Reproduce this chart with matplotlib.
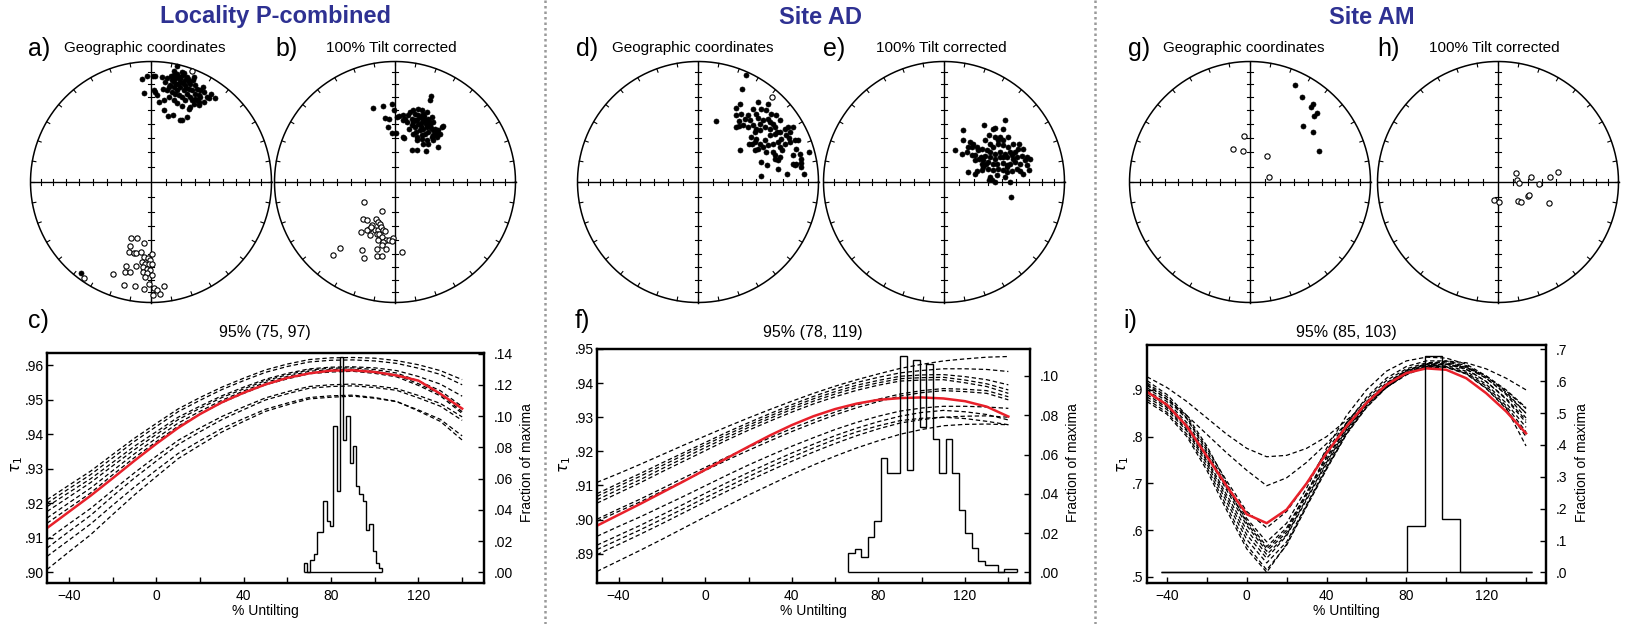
import numpy as np
import matplotlib
matplotlib.use('Agg')
import matplotlib.pyplot as plt
from matplotlib.lines import Line2D

plt.rcParams['font.family'] = ['Liberation Sans', 'DejaVu Sans']

W, H = 1642, 624

# ---------------- data ----------------
group_titles = ['Locality P-combined', 'Site AD', 'Site AM']
net_labels = ['a)', 'b)', 'd)', 'e)', 'g)', 'h)']
net_titles = ['Geographic coordinates', '100% Tilt corrected'] * 3
fold_labels = ['c)', 'f)', 'i)']
fold_titles = ['95% (75, 97)', '95% (78, 119)', '95% (85, 103)']

# stereonet points: (east, north) in % of the primitive radius
a_fill = [(-7.5, 85.1), (-5.5, 73.8), (-3.3, 87.6), (1.7, 87.6), (3.6, 87.6), (9.1, 87.0), (21.5, 95.9),
          (18.8, 92.5), (16.6, 87.6), (17.4, 84.3), (19.3, 82.9), (24.3, 85.6), (26.5, 88.4), (28.5, 84.3),
          (29.8, 87.0), (31.2, 82.9), (32.6, 81.5), (34.8, 84.3), (36.7, 80.9), (38.1, 77.3), (40.9, 76.0),
          (43.6, 74.6), (46.4, 70.4), (49.7, 73.2), (52.8, 69.6), (47.8, 69.9), (40.9, 70.4), (38.1, 67.7),
          (35.4, 64.9), (39.5, 63.5), (31.2, 60.8), (25.7, 62.7), (21.5, 65.5), (18.8, 67.7), (14.6, 70.4),
          (10.5, 67.7), (6.4, 66.3), (2.8, 76.0), (5.0, 71.8), (9.9, 77.3), (13.3, 76.0), (17.4, 74.6),
          (21.5, 76.5), (24.3, 78.7), (27.1, 76.0), (29.8, 73.2), (32.6, 70.4), (34.0, 67.7), (29.8, 53.9),
          (25.7, 51.1), (24.3, 51.7), (18.2, 55.2), (14.1, 54.4), (10.5, 59.9), (28.5, 67.7), (25.7, 70.4),
          (22.9, 71.8), (20.2, 73.2), (16.0, 80.1), (18.8, 78.7), (21.5, 81.5), (24.3, 82.9), (28.5, 80.1),
          (31.2, 77.3), (34.0, 76.0), (36.7, 73.2), (26.5, 82.0), (29.3, 78.2), (30.4, 85.4), (27.6, 90.3),
          (23.8, 87.0), (21.0, 86.5), (18.2, 85.4), (36.7, 69.1), (39.5, 66.3), (43.6, 66.3), (32.6, 62.2),
          (35.4, 87.0), (3.6, 74.6), (14.6, 78.7), (18.8, 88.4), (21.5, 89.8), (25.7, 91.2), (13.3, 86.5),
          (11.9, 82.9), (43.1, 78.7), (40.1, 71.8), (-58.0, -75.4)]
a_open = [(34.0, 92.0), (-16.6, -46.1), (-11.6, -46.1), (-5.5, -50.3), (-17.7, -53.3), (-18.5, -58.0),
          (-14.4, -58.8), (-12.2, -58.8), (-8.3, -58.0), (0.8, -59.4), (-6.1, -62.2), (-2.8, -62.7),
          (-0.6, -64.4), (-7.5, -66.3), (-4.7, -67.7), (-1.9, -68.2), (0.8, -67.7), (-20.4, -69.9),
          (-12.7, -69.6), (-6.6, -70.4), (-3.3, -71.8), (-0.6, -72.7), (-21.3, -74.6), (-17.1, -74.6),
          (-6.6, -74.6), (-3.3, -75.4), (-31.5, -76.0), (-4.7, -78.7), (0.8, -77.3), (-22.7, -85.1),
          (-13.0, -86.2), (-6.1, -89.0), (-1.9, -84.3), (2.2, -87.6), (5.0, -89.8), (11.0, -86.5),
          (1.7, -93.9), (7.7, -93.1), (-55.8, -79.3)]
b_fill = [(-18.5, 61.6), (-9.7, 62.7), (-2.8, 64.9), (-0.8, 59.4), (-8.3, 53.3), (-4.7, 52.5), (-5.5, 45.6),
          (-2.8, 40.6), (0.6, 40.6), (1.4, 53.9), (3.6, 54.4), (6.4, 55.2), (8.3, 52.5), (11.0, 55.2),
          (12.4, 58.0), (15.2, 59.4), (16.6, 56.6), (19.3, 60.8), (22.1, 59.4), (23.5, 56.6), (26.2, 58.0),
          (29.0, 67.7), (29.6, 71.0), (20.7, 53.9), (18.0, 51.1), (15.2, 49.7), (13.8, 47.0), (16.6, 45.6),
          (19.3, 47.8), (22.1, 49.7), (24.9, 51.1), (27.6, 52.5), (30.4, 53.9), (31.8, 49.7), (29.0, 47.0),
          (26.2, 45.6), (23.5, 44.2), (20.7, 42.8), (17.4, 41.4), (15.2, 40.1), (18.0, 37.3), (22.1, 38.7),
          (24.9, 40.1), (27.6, 41.4), (31.2, 42.8), (33.1, 44.2), (35.9, 42.8), (38.7, 45.6), (40.1, 46.1),
          (37.3, 40.1), (34.5, 37.3), (30.4, 37.3), (26.2, 34.5), (23.5, 31.8), (27.6, 31.2), (31.2, 34.5),
          (35.9, 29.0), (13.8, 26.2), (18.0, 26.2), (25.7, 25.4), (6.4, 37.3), (7.5, 36.7), (9.7, 49.7),
          (11.9, 44.2), (19.3, 55.2), (22.9, 52.5), (25.7, 48.3), (28.5, 50.6), (21.3, 46.1), (16.6, 51.7),
          (13.8, 52.5), (31.8, 38.7), (33.7, 40.6), (6.9, 51.1), (18.0, 34.5), (22.1, 35.9), (24.0, 54.4),
          (29.6, 45.0)]
b_open = [(-25.4, -16.6), (-11.0, -24.0), (-26.2, -30.4), (-23.5, -31.8), (-15.7, -30.4), (-13.8, -33.1),
          (-12.4, -35.1), (-19.3, -35.9), (-21.3, -38.7), (-22.9, -40.1), (-28.2, -41.4), (-20.7, -44.2),
          (-16.6, -39.5), (-13.8, -40.1), (-11.9, -37.3), (-10.2, -39.5), (-8.3, -40.6), (-15.2, -42.8),
          (-13.0, -43.4), (-11.0, -45.6), (-7.5, -47.8), (-4.7, -47.8), (-1.4, -46.1), (-2.8, -48.9),
          (-13.8, -48.3), (-9.7, -49.7), (-14.6, -55.2), (-11.0, -52.5), (-7.5, -55.2), (-45.6, -54.4),
          (-51.1, -60.8), (-27.1, -56.1), (-25.4, -62.7), (-15.2, -61.6), (-11.0, -61.3), (6.1, -58.0),
          (-20.2, -37.3)]
d_fill = [(40.1, 89.0), (36.5, 76.8), (15.2, 50.3), (34.5, 64.9), (31.2, 61.3), (31.8, 55.2), (35.9, 56.6),
          (34.0, 50.6), (38.7, 52.5), (41.4, 55.2), (45.6, 60.8), (49.7, 66.3), (52.5, 60.8), (56.6, 59.4),
          (58.0, 64.9), (42.8, 51.1), (45.6, 47.0), (48.3, 44.2), (51.1, 48.3), (53.9, 51.1), (58.0, 52.5),
          (60.8, 56.6), (64.9, 55.2), (67.7, 51.1), (62.2, 47.8), (63.5, 45.6), (59.4, 44.2), (55.2, 45.6),
          (51.1, 42.8), (47.0, 41.4), (41.4, 45.6), (37.3, 47.0), (34.0, 46.1), (44.2, 37.3), (48.3, 35.9),
          (51.1, 31.8), (55.2, 34.5), (59.4, 38.7), (63.5, 40.1), (67.7, 41.4), (71.8, 44.2), (74.6, 45.6),
          (78.7, 45.6), (76.0, 41.4), (72.7, 38.7), (69.1, 35.9), (66.3, 33.1), (62.2, 31.8), (58.0, 30.4),
          (53.9, 29.0), (49.7, 27.6), (47.0, 26.8), (56.6, 24.9), (62.2, 24.9), (67.7, 29.0), (71.8, 31.8),
          (76.0, 33.1), (80.1, 35.1), (82.9, 35.1), (81.5, 27.6), (84.3, 23.5), (92.0, 24.9), (63.5, 19.3),
          (66.3, 18.0), (67.7, 20.7), (78.7, 15.2), (81.5, 14.6), (85.6, 15.7), (80.1, 13.8), (85.6, 12.4),
          (52.5, 16.6), (57.5, 13.8), (66.3, 11.0), (52.5, 5.0), (73.8, 6.4), (87.6, 6.4), (34.5, 26.2),
          (75.4, 36.7), (69.9, 26.2), (65.5, 41.4), (59.9, 49.7), (49.7, 53.3), (47.8, 56.1), (31.8, 45.6),
          (45.0, 31.8), (42.3, 31.8), (47.0, 33.1), (63.5, 22.1), (78.7, 22.1), (85.6, 19.3)]
d_open = [(61.6, 70.4)]
e_fill = [(50.6, 51.7), (33.1, 47.5), (40.3, 44.2), (42.3, 45.0), (48.6, 44.2), (15.5, 42.8), (37.6, 38.7),
          (42.3, 37.3), (46.4, 37.3), (53.3, 37.3), (16.0, 35.1), (21.5, 33.1), (23.8, 31.8), (20.2, 29.0),
          (9.1, 26.2), (34.0, 34.5), (38.1, 31.8), (40.9, 29.0), (45.0, 31.8), (49.2, 30.4), (53.3, 29.0),
          (56.9, 31.8), (62.4, 31.8), (61.6, 27.6), (58.8, 24.9), (54.7, 24.9), (50.6, 23.5), (46.4, 24.9),
          (42.3, 23.5), (38.1, 24.9), (35.4, 26.2), (31.2, 27.6), (28.5, 26.2), (25.7, 22.1), (30.4, 20.7),
          (34.0, 21.3), (38.1, 20.7), (42.3, 19.3), (46.4, 20.7), (49.2, 20.7), (56.1, 22.1), (60.2, 20.7),
          (64.4, 21.3), (68.5, 20.7), (71.3, 19.3), (67.1, 18.0), (63.0, 15.2), (58.8, 16.6), (54.7, 15.2),
          (51.9, 13.8), (49.2, 15.7), (43.6, 14.6), (40.9, 15.2), (36.7, 16.6), (32.6, 18.0), (29.3, 19.3),
          (25.7, 18.0), (22.9, 22.1), (18.8, 24.9), (14.6, 22.9), (32.6, 12.4), (36.7, 11.0), (40.9, 9.7),
          (45.0, 11.0), (49.2, 9.7), (51.9, 8.3), (56.1, 9.1), (60.2, 11.0), (63.0, 9.1), (65.7, 6.9),
          (70.7, 10.2), (68.5, 13.8), (31.2, 10.2), (27.1, 9.1), (20.2, 8.3), (25.7, 6.9), (38.1, 4.1),
          (39.5, 1.9), (42.3, 0.0), (50.6, 4.1), (54.7, 0.0), (37.6, 1.4), (55.2, -12.4), (31.2, 15.2),
          (34.8, 14.6), (45.0, 35.1), (51.9, 20.7), (57.5, 19.3), (65.7, 27.6), (27.1, 29.0), (22.9, 29.0),
          (51.9, 12.4), (43.6, 5.5), (49.2, 34.5)]
e_open = []
g_fill = [(37.3, 80.9), (43.4, 70.2), (50.6, 62.2), (51.9, 64.9), (55.2, 57.5), (53.3, 54.7), (43.6, 46.1),
          (52.5, 41.4), (57.5, 25.4)]
g_open = [(-4.7, 37.8), (-14.4, 27.1), (-5.5, 26.0), (14.4, 21.5), (16.0, 4.4)]
h_fill = []
h_open = [(14.9, 7.7), (15.7, 1.4), (17.7, -0.8), (27.1, 4.4), (33.7, -1.9), (42.8, 4.1), (49.4, 8.0),
          (-3.0, -15.2), (0.6, -16.9), (16.3, -16.0), (19.3, -16.3), (24.6, -11.9), (25.7, -10.8),
          (42.5, -17.4)]

# fold test: tau1 versus % untilting (same untilting steps for every curve)
untilt = [-50, -40, -30, -20, -10, 0, 10, 20, 30, 40, 50, 60, 70, 80, 90, 100, 110, 120, 130, 140]

c_mean = [.9128, .9175, .9222, .9272, .9323, .9372, .9418, .9458, .9492, .9520, .9544, .9563, .9576, .9584,
          .9585, .9580, .9570, .9555, .9517, .9474]
c_boot = [
    [.9210, .9252, .9293, .9341, .9388, .9431, .9473, .9506, .9536, .9562, .9586, .9603, .9616, .9621, .9622, .9620, .9613, .9601, .9584, .9558],
    [.9200, .9242, .9283, .9331, .9379, .9422, .9465, .9498, .9529, .9555, .9579, .9596, .9609, .9614, .9615, .9612, .9605, .9591, .9573, .9543],
    [.9190, .9231, .9271, .9318, .9365, .9407, .9449, .9481, .9511, .9536, .9559, .9576, .9589, .9594, .9595, .9592, .9584, .9567, .9545, .9510],
    [.9176, .9218, .9260, .9308, .9355, .9399, .9442, .9475, .9506, .9531, .9555, .9572, .9586, .9591, .9592, .9587, .9577, .9554, .9526, .9480],
    [.9157, .9201, .9244, .9294, .9343, .9388, .9432, .9466, .9498, .9525, .9550, .9567, .9582, .9587, .9588, .9582, .9571, .9546, .9516, .9465],
    [.9142, .9186, .9230, .9282, .9332, .9378, .9423, .9458, .9491, .9518, .9543, .9560, .9575, .9580, .9582, .9576, .9566, .9541, .9511, .9460],
    [.9094, .9140, .9185, .9237, .9288, .9336, .9382, .9418, .9451, .9479, .9505, .9523, .9538, .9543, .9545, .9540, .9532, .9512, .9489, .9450],
    [.9070, .9118, .9165, .9220, .9273, .9322, .9370, .9407, .9442, .9471, .9499, .9517, .9533, .9538, .9540, .9535, .9527, .9505, .9481, .9440],
    [.9046, .9093, .9140, .9194, .9247, .9296, .9344, .9381, .9416, .9445, .9472, .9490, .9506, .9511, .9513, .9506, .9495, .9467, .9437, .9383],
    [.9008, .9059, .9109, .9167, .9224, .9277, .9329, .9368, .9406, .9437, .9466, .9485, .9502, .9507, .9510, .9504, .9494, .9470, .9443, .9395],
]
c_edges = [67.5, 69, 70.5, 72, 73.5, 75, 76.5, 78, 79.5, 81, 82.5, 84, 85.5, 87, 88.5, 90, 91.5, 93,
           94.5, 96, 97.5, 99, 100.5, 102, 103.5]
c_frac = [.006, .000, .008, .012, .026, .026, .046, .033, .030, .094, .052, .138, .085, .100, .070, .081,
          .055, .050, .046, .027, .031, .014, .006, .003]

f_mean = [.8982, .9014, .9046, .9079, .9112, .9146, .9180, .9214, .9247, .9277, .9303, .9324, .9340, .9351,
          .9356, .9358, .9355, .9347, .9331, .9302]
f_boot = [
    [.9109, .9135, .9162, .9190, .9218, .9245, .9272, .9298, .9323, .9347, .9370, .9391, .9410, .9427, .9443, .9455, .9465, .9471, .9476, .9478],
    [.9076, .9106, .9135, .9166, .9196, .9226, .9256, .9284, .9311, .9337, .9361, .9383, .9402, .9417, .9430, .9437, .9442, .9442, .9440, .9434],
    [.9068, .9098, .9127, .9158, .9189, .9219, .9249, .9277, .9304, .9330, .9354, .9375, .9394, .9408, .9420, .9424, .9425, .9419, .9410, .9395],
    [.9058, .9088, .9117, .9149, .9180, .9211, .9241, .9270, .9297, .9323, .9347, .9368, .9387, .9401, .9413, .9416, .9417, .9409, .9398, .9380],
    [.9048, .9078, .9108, .9140, .9171, .9202, .9233, .9262, .9289, .9315, .9339, .9360, .9379, .9394, .9406, .9409, .9410, .9401, .9390, .9370],
    [.9001, .9031, .9060, .9091, .9122, .9153, .9183, .9212, .9240, .9267, .9292, .9315, .9336, .9353, .9368, .9378, .9384, .9382, .9378, .9360],
    [.8995, .9024, .9052, .9083, .9113, .9144, .9174, .9203, .9231, .9258, .9283, .9307, .9328, .9346, .9362, .9372, .9378, .9375, .9370, .9351],
    [.8951, .8980, .9008, .9038, .9068, .9099, .9130, .9160, .9188, .9215, .9240, .9264, .9285, .9303, .9318, .9327, .9332, .9332, .9330, .9326],
    [.8925, .8954, .8983, .9014, .9045, .9077, .9108, .9138, .9167, .9195, .9221, .9246, .9268, .9287, .9303, .9314, .9320, .9316, .9308, .9292],
    [.8912, .8941, .8970, .9001, .9032, .9064, .9095, .9126, .9155, .9183, .9210, .9235, .9257, .9275, .9290, .9297, .9300, .9296, .9288, .9278],
    [.8897, .8927, .8957, .8988, .9020, .9052, .9083, .9114, .9143, .9171, .9198, .9223, .9246, .9266, .9283, .9293, .9300, .9303, .9304, .9300],
    [.8848, .8879, .8910, .8942, .8975, .9008, .9040, .9072, .9102, .9132, .9160, .9186, .9210, .9231, .9250, .9264, .9275, .9279, .9280, .9278],
]
f_edges = [66, 69, 72, 75, 78, 81, 84, 87, 90, 93, 96, 99, 102, 105, 108, 111, 114, 117, 120, 123, 126,
           129, 132, 135, 138, 141, 144]
f_frac = [.0098, .012, .008, .0178, .026, .058, .0505, .0505, .110, .052, .108, .074, .106, .068, .0505,
          .068, .0505, .032, .020, .0124, .006, .004, .004, .000, .0019, .0019]

i_mean = [.896, .868, .822, .758, .694, .634, .615, .644, .700, .765, .822, .872, .911, .936, .946, .943,
          .925, .893, .854, .807]
i_boot = [
    [.928, .905, .875, .840, .805, .775, .757, .760, .775, .800, .835, .870, .905, .935, .955, .962, .958, .945, .925, .900],
    [.912, .880, .845, .805, .765, .728, .695, .712, .745, .785, .828, .870, .905, .932, .950, .955, .948, .930, .900, .862],
    [.915, .885, .840, .775, .705, .640, .605, .640, .700, .770, .830, .880, .920, .945, .958, .960, .950, .925, .890, .840],
    [.905, .875, .830, .765, .690, .620, .565, .605, .680, .755, .820, .875, .915, .942, .955, .956, .945, .918, .880, .830],
    [.900, .870, .825, .760, .685, .610, .555, .595, .675, .750, .818, .872, .913, .941, .956, .958, .948, .925, .892, .850],
    [.895, .865, .820, .752, .675, .600, .548, .590, .668, .745, .815, .870, .912, .940, .954, .955, .944, .918, .882, .835],
    [.890, .862, .815, .748, .668, .590, .540, .588, .665, .742, .812, .868, .910, .938, .952, .953, .940, .912, .872, .820],
    [.885, .858, .812, .742, .660, .580, .530, .575, .655, .735, .808, .866, .908, .937, .950, .950, .937, .908, .866, .810],
    [.880, .852, .805, .735, .650, .568, .515, .568, .650, .730, .805, .862, .905, .934, .948, .948, .934, .903, .860, .800],
    [.875, .848, .800, .728, .642, .560, .510, .570, .652, .732, .806, .863, .906, .935, .949, .949, .935, .904, .862, .780],
    [.920, .890, .845, .780, .700, .625, .575, .615, .690, .775, .845, .900, .940, .962, .970, .968, .955, .930, .895, .850],
    [.910, .880, .838, .770, .695, .615, .560, .600, .680, .760, .828, .884, .925, .950, .962, .962, .952, .928, .898, .860],
]
i_edges = [-43, 80.5, 89.2, 98, 107, 143]
i_frac = [0, .146, .679, .167, 0]

# ---------------- drawing ----------------
fig = plt.figure(figsize=(W / 100, H / 100), dpi=100)
fig.patch.set_facecolor('white')
NAVY = '#2e3192'
RED = '#e8202a'


def px_rect(l, t, r, b):
    return [l / W, 1 - b / H, (r - l) / W, (b - t) / H]


def ftext(x, y, s, **kw):
    fig.text(x / W, 1 - y / H, s, **kw)


def stereonet(cx, cy, fill_pts, open_pts):
    R = 120.5
    pad = 1.06
    ax = fig.add_axes(px_rect(cx - R * pad, cy - R * pad, cx + R * pad, cy + R * pad))
    ax.set_xlim(-pad, pad)
    ax.set_ylim(-pad, pad)
    ax.axis('off')
    t = np.linspace(0, 2 * np.pi, 400)
    ax.plot(np.cos(t), np.sin(t), color='k', lw=1.1)
    ax.plot([-1, 1], [0, 0], color='k', lw=1.0)
    ax.plot([0, 0], [-1, 1], color='k', lw=1.0)
    # inclination ticks (equal-area spacing) along the axes
    incs = np.arange(10, 90, 10)
    rr = np.sqrt(2) * np.sin(np.radians(90 - incs) / 2)
    tl = 0.022
    for r in rr:
        for s in (-1, 1):
            ax.plot([s * r, s * r], [-tl, tl], color='k', lw=0.8)
            ax.plot([-tl, tl], [s * r, s * r], color='k', lw=0.8)
    # azimuth ticks every 10 degrees
    for az in np.radians(np.arange(0, 360, 10)):
        ax.plot([np.sin(az), 0.97 * np.sin(az)], [np.cos(az), 0.97 * np.cos(az)], color='k', lw=0.8)
    if fill_pts:
        p = np.array(fill_pts) / 100.0
        ax.plot(p[:, 0], p[:, 1], 'o', ms=3.6, mfc='k', mec='k', mew=0.5, ls='none')
    if open_pts:
        p = np.array(open_pts) / 100.0
        ax.plot(p[:, 0], p[:, 1], 'o', ms=3.8, mfc='white', mec='k', mew=0.8, ls='none')


def fold_panel(rect, x, mean, boot, edges, frac, ylim, yticks, ydec, y2lim, y2ticks, y2dec):
    ax = fig.add_axes(px_rect(*rect))
    for curve in boot:
        ax.plot(x, curve, color='k', lw=0.9, dashes=(3.5, 2.2))
    ax.plot(x, mean, color=RED, lw=1.8, zorder=5)
    ax.set_xlim(-50, 150)
    ax.set_ylim(*ylim)
    xt = list(range(-40, 150, 20))
    ax.set_xticks(xt)
    ax.set_xticklabels([(('\u2212' + str(-v)) if v < 0 else str(v)) if v % 40 == 0 else '' for v in xt])
    ax.set_yticks(yticks)
    ax.set_yticklabels([('%.*f' % (ydec, v)).lstrip('0') for v in yticks])
    ax.tick_params(direction='in', length=4, width=1, labelsize=10, top=False, right=False)
    ax.tick_params(axis='y', pad=2.5)
    ax.tick_params(axis='x', pad=4)
    for sp in ax.spines.values():
        sp.set_linewidth(1.6)
    ax2 = ax.twinx()
    ax2.stairs(frac, edges, baseline=0, color='k', lw=1.0)
    ax2.hlines(0, edges[0], edges[-1], color='k', lw=1.0)
    ax2.set_ylim(*y2lim)
    ax2.set_yticks(y2ticks)
    ax2.set_yticklabels([('%.*f' % (y2dec, v)).lstrip('0') for v in y2ticks])
    ax2.tick_params(direction='in', length=4, width=1, labelsize=10, pad=7)
    for sp in ax2.spines.values():
        sp.set_linewidth(1.6)
    return ax


# group headers and separators
for cx, s in zip([275, 820, 1372], group_titles):
    ftext(cx, 17, s, ha='center', va='center', fontsize=17, fontweight='bold', color=NAVY)
for xs in [545, 1095]:
    fig.add_artist(Line2D([xs / W, xs / W], [0, 1], color='#9a9a9a', lw=1.8, ls=(0, (1, 1.2))))

# stereonets
net_cx = [151, 395, 698, 944, 1250, 1498]
net_lab_x = [28, 275, 576, 823, 1128, 1377]
net_txt_x = [64, 326, 612, 876, 1163, 1429]
net_data = [(a_fill, a_open), (b_fill, b_open), (d_fill, d_open), (e_fill, e_open),
            (g_fill, g_open), (h_fill, h_open)]
for k in range(6):
    stereonet(net_cx[k], 182, *net_data[k])
    ftext(net_lab_x[k], 49, net_labels[k], ha='left', va='center', fontsize=18)
    ftext(net_txt_x[k], 48, net_titles[k], ha='left', va='center', fontsize=11)

# fold-test panels
fold_panel((47, 353, 484, 583), untilt, c_mean, c_boot, c_edges, c_frac,
           (0.8969, 0.9635), [.90, .91, .92, .93, .94, .95, .96], 2,
           (-0.0068, 0.1404), [.00, .02, .04, .06, .08, .10, .12, .14], 2)
fold_panel((597, 349, 1030, 583), untilt, f_mean, f_boot, f_edges, f_frac,
           (0.8814, 0.9500), [.89, .90, .91, .92, .93, .94, .95], 2,
           (-0.0054, 0.1137), [.00, .02, .04, .06, .08, .10], 2)
fold_panel((1147, 345, 1546, 583), untilt, i_mean, i_boot, i_edges, i_frac,
           (0.487, 0.996), [.5, .6, .7, .8, .9], 1,
           (-0.033, 0.7135), [.0, .1, .2, .3, .4, .5, .6, .7], 1)

fold_lab_x = [28, 575, 1123]
fold_cx = [265, 813, 1346]
tau_x = [17, 565, 1123]
frac_x = [527, 1073, 1582]
for k in range(3):
    ftext(fold_lab_x[k], 321, fold_labels[k], ha='left', va='center', fontsize=18)
    ftext(fold_cx[k], 333, fold_titles[k], ha='center', va='center', fontsize=11.5)
    ftext(fold_cx[k], 611, '% Untilting', ha='center', va='center', fontsize=10)
    ftext(tau_x[k], 465, r'$\tau_1$', ha='center', va='center', fontsize=11, rotation=90)
    ftext(frac_x[k], 463, 'Fraction of maxima', ha='center', va='center', fontsize=10, rotation=90)

fig.savefig('out.png', dpi=100, facecolor='white')
